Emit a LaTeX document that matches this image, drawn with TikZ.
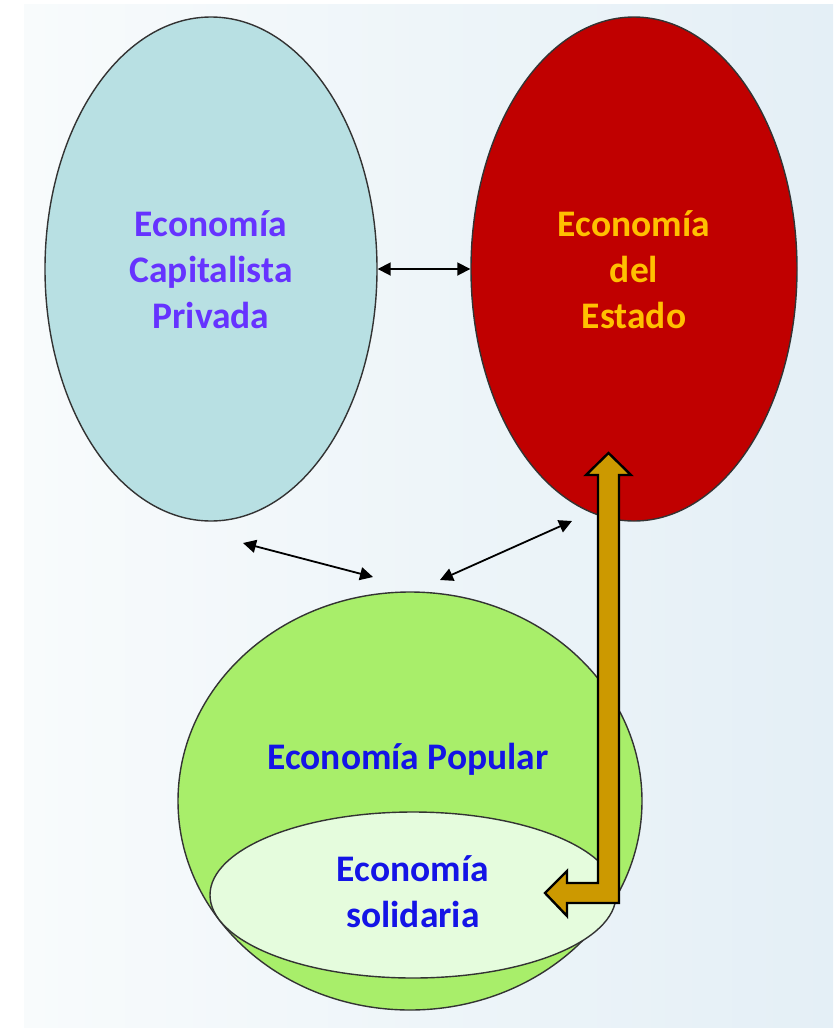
\documentclass[tikz,border=0pt]{standalone}
\usepackage{fontspec}
\setmainfont{Carlito}
\usetikzlibrary{shapes.geometric,arrows.meta}
\definecolor{bgL}{RGB}{248,251,252}
\definecolor{bgR}{RGB}{228,239,246}
\definecolor{capfill}{RGB}{184,224,227}
\definecolor{estfill}{RGB}{192,0,0}
\definecolor{popfill}{RGB}{168,238,106}
\definecolor{solfill}{RGB}{229,252,221}
\definecolor{gold}{RGB}{204,153,0}
\definecolor{captext}{RGB}{102,51,255}
\definecolor{esttext}{RGB}{255,192,0}
\definecolor{poptext}{RGB}{20,20,230}
\tikzset{
  blob/.style={ellipse, draw=black!80, line width=1.4pt, inner sep=0pt},
  lbl/.style={font=\fontsize{37.5}{46}\selectfont\bfseries, align=center},
  dbl/.style={line width=1.8pt, {Triangle[length=13pt,width=13pt]}-{Triangle[length=13pt,width=13pt]}},
}
\begin{document}
\begin{tikzpicture}[x=1pt,y=-1pt]
\useasboundingbox (0,0) rectangle (833,1028);
\shade[left color=bgL, right color=bgR] (24,4) rectangle (833,1028);
% ellipses
\node[blob, fill=capfill, minimum width=332pt, minimum height=504pt] (cap) at (211,269) {};
\node[blob, fill=estfill, minimum width=326pt, minimum height=504pt] (est) at (634,269) {};
\node[blob, fill=popfill, minimum width=464pt, minimum height=418pt] (pop) at (410,801) {};
\node[blob, fill=solfill, minimum width=406pt, minimum height=166pt] (sol) at (413,895) {};
% labels
\node[lbl, text=captext] (capt) at (211,270) {Economía\\Capitalista\\Privada};
\node[lbl, text=esttext] (estt) at (634,270) {Economía\\del\\Estado};
\node[lbl, text=poptext] (popt) at (408,759) {Economía Popular};
\node[lbl, text=poptext] (solt) at (413,892) {Economía\\solidaria};
% connectors
\draw[dbl] (cap.east) -- (est.west);
\coordinate (a1) at (243,543);
\coordinate (a2) at (373,577);
\coordinate (b1) at (572,521);
\coordinate (b2) at (440,580);
\draw[dbl] (a1) -- (a2);
\draw[dbl] (b1) -- (b2);
% gold arrow
\draw[fill=gold, draw=black, line width=2.4pt, line join=miter]
  (608.5,453) -- (631,475) -- (619,475) -- (619,903) -- (567,903) -- (567,916)
  -- (545,893) -- (567,871) -- (567,883) -- (598,883) -- (598,475) -- (586,475) -- cycle;
\end{tikzpicture}
\end{document}
